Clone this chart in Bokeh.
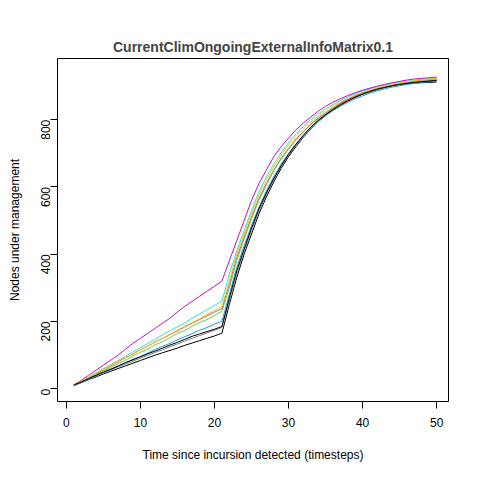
import math
from bokeh.plotting import figure
from bokeh.models import Range1d, FixedTicker
from bokeh.embed import file_html
from bokeh.resources import INLINE

t = list(range(1, 51))

s_black1 = [10,18,27,35,44,52,60,68,76,84,92,100,107,114,121,129,136,143,150,157,165,250,330,400,460,520,570,615,655,690,720,748,772,795,815,832,848,860,870,880,887,893,898,902,905,907,909,910,911,912]
s_red = [10,20,32,44,56,68,80,92,104,116,127,139,150,161,172,184,195,206,217,228,238,310,390,450,510,565,610,650,685,715,742,765,786,805,820,835,848,860,870,878,885,892,898,903,908,912,915,918,920,922]
s_green = [11,22,33,42,54,63,75,85,98,108,118,131,140,152,165,173,186,197,206,218,230,300,380,445,505,560,605,648,682,712,740,763,785,802,818,832,845,856,866,875,882,889,895,900,904,908,911,914,916,918]
s_blue = [9,18,28,37,48,58,66,76,88,96,106,117,126,135,145,155,164,174,182,192,200,280,360,425,485,540,588,630,668,700,728,752,774,794,812,827,840,852,862,871,879,886,892,897,901,905,908,911,913,915]
s_cyan = [10,21,34,46,60,71,84,97,110,122,135,147,160,173,184,196,210,222,235,248,260,340,410,470,530,585,630,668,702,732,758,780,800,817,832,845,857,868,877,885,892,898,903,907,911,914,917,920,922,924]
s_magenta = [12,25,40,55,70,85,100,118,135,150,165,180,195,210,228,245,260,275,290,305,320,380,440,500,560,610,650,690,720,745,770,790,808,825,840,852,862,872,880,888,894,900,905,910,914,918,921,923,925,927]
s_yellow = [12,23,35,47,58,70,82,93,103,116,128,138,151,162,174,186,197,208,221,232,245,320,400,460,520,575,620,660,695,725,750,773,793,810,826,840,852,863,873,881,888,894,900,905,909,913,916,919,921,923]
s_gray = [10,19,29,38,47,56,65,73,82,91,99,108,116,125,133,142,150,158,166,174,182,260,340,410,470,528,578,622,660,694,723,750,773,794,812,828,842,855,866,875,883,890,896,901,905,909,912,914,916,918]
s_black2 = [11,20,30,40,50,58,68,78,86,95,104,112,121,130,138,147,156,163,170,177,185,270,350,415,478,535,582,625,663,697,727,754,778,798,815,830,844,856,867,876,884,891,896,901,905,908,911,913,915,917]

series = [s_black1, s_red, s_green, s_blue, s_cyan, s_magenta, s_yellow, s_gray, s_black2]
colors = ["black", "#DF536B", "#61D04F", "#2297E6", "#28E2E5", "#CD0BBC", "#F5C710", "gray", "black"]

p = figure(width=464, height=464, output_backend="svg", toolbar_location=None,
           title="CurrentClimOngoingExternalInfoMatrix0.1",
           x_range=Range1d(-1.2, 51.6), y_range=Range1d(-38, 982),
           min_border_left=57, min_border_right=16, min_border_top=58, min_border_bottom=58)
p.title.align = "center"
p.title.text_font = "Liberation Sans"
p.title.text_font_size = "14px"
p.title.text_font_style = "bold"
p.title.standoff = 8
p.outline_line_color = "black"
p.xgrid.visible = False
p.ygrid.visible = False

for s, c in zip(series, colors):
    p.line(t, s, line_color=c, line_width=1)

p.xaxis.ticker = FixedTicker(ticks=[0, 10, 20, 30, 40, 50])
p.yaxis.ticker = FixedTicker(ticks=[0, 200, 400, 600, 800])
p.yaxis.major_label_orientation = math.pi / 2
p.xaxis.axis_label = "Time since incursion detected (timesteps)"
p.yaxis.axis_label = "Nodes under management"
p.xaxis.major_label_standoff = 9
p.xaxis.axis_label_standoff = 18
p.yaxis.axis_label_standoff = 12
for ax in (p.xaxis, p.yaxis):
    ax.axis_line_color = None
    ax.major_tick_in = 0
    ax.major_tick_out = 7
    ax.minor_tick_line_color = None
    ax.major_tick_line_color = "black"
    ax.major_label_text_font = "Liberation Sans"
    ax.major_label_text_font_size = "12px"
    ax.major_label_text_color = "black"
    ax.axis_label_text_font = "Liberation Sans"
    ax.axis_label_text_font_size = "12px"
    ax.axis_label_text_font_style = "normal"
    ax.axis_label_text_color = "black"

open("out.html", "w").write(file_html(p, INLINE))
